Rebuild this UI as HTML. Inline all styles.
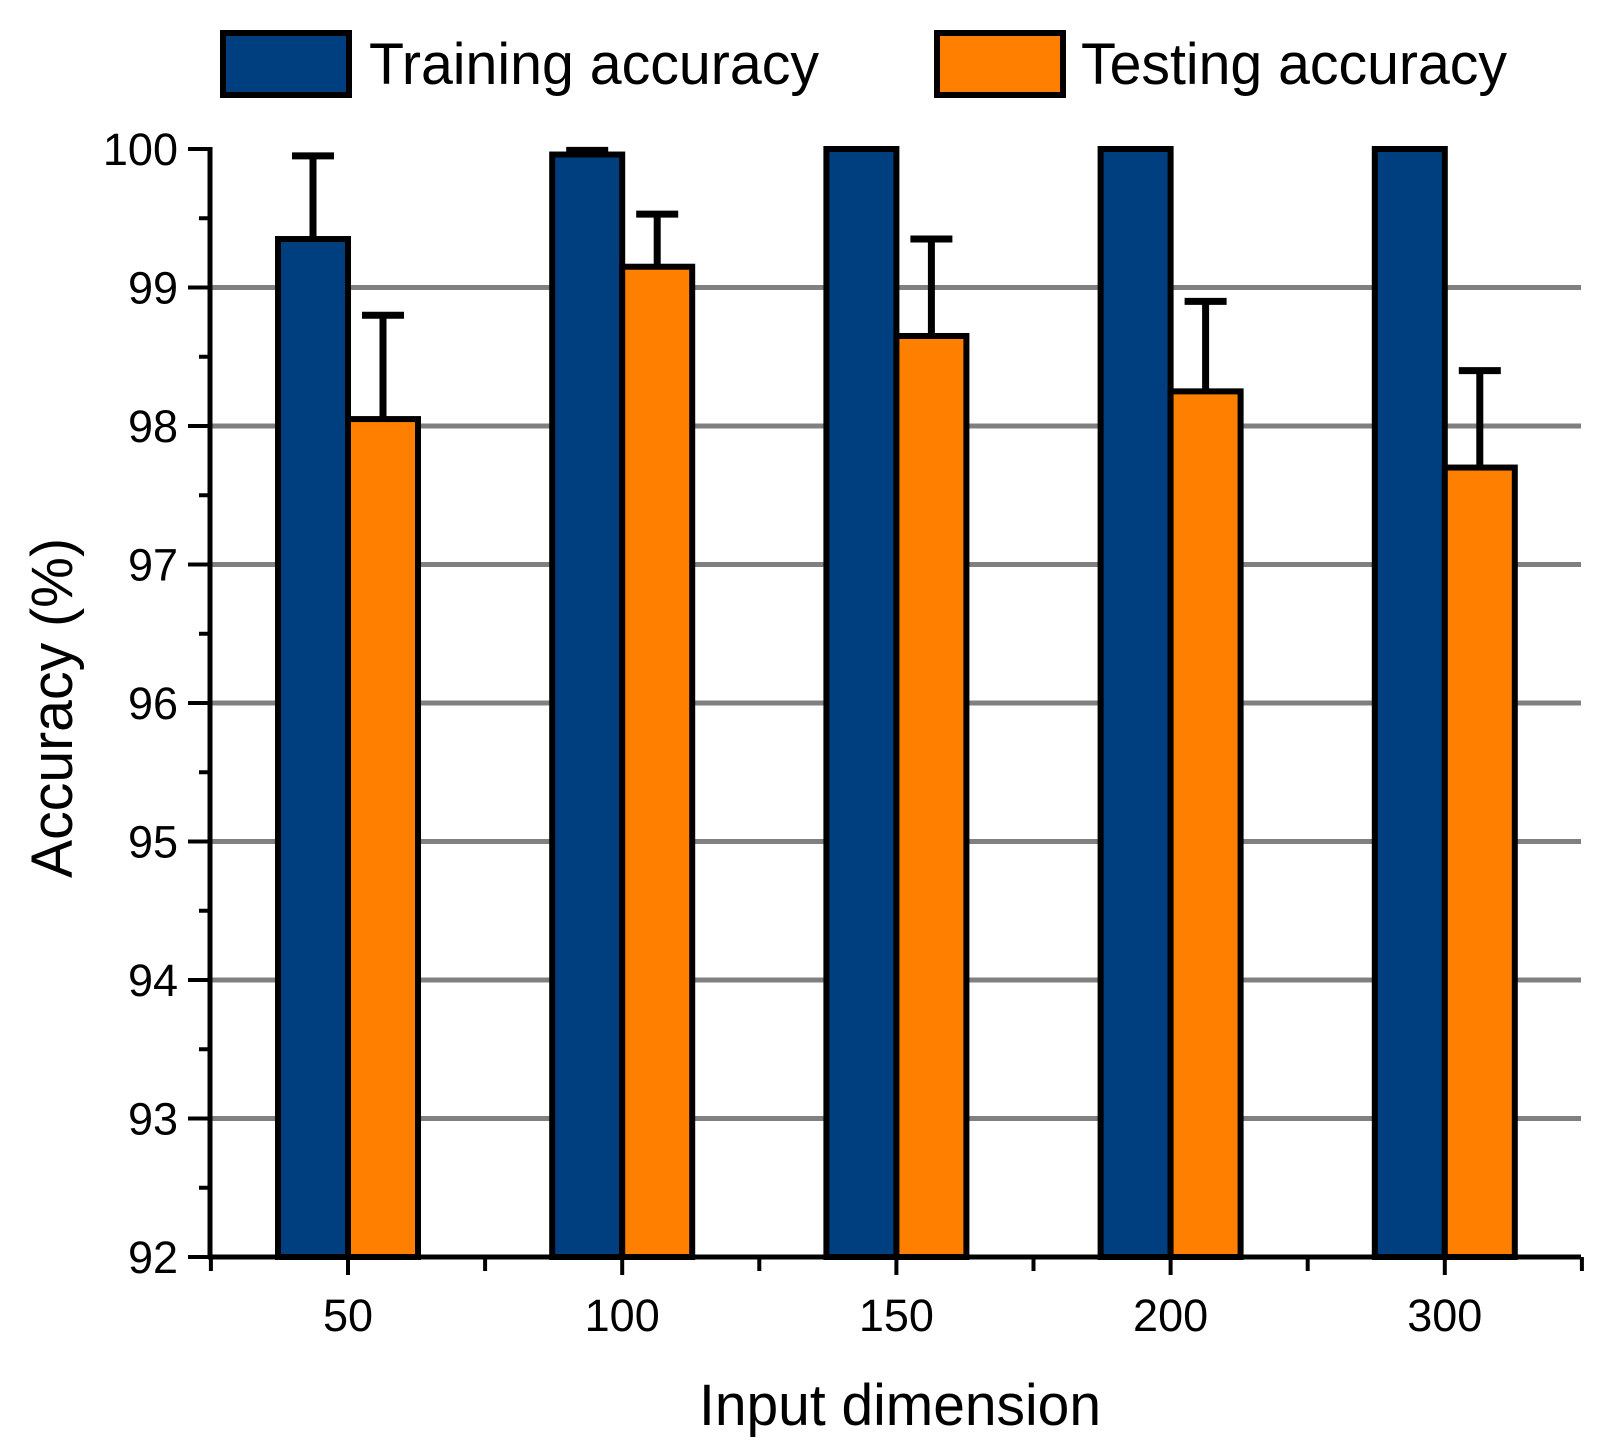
<!DOCTYPE html>
<html><head><meta charset="utf-8"><style>
html,body{margin:0;padding:0;background:#fff;}
svg text{font-family:"Liberation Sans",Arial,sans-serif;fill:#000;}
</style></head><body>
<svg id="chart" width="1612" height="1441" viewBox="0 0 1612 1441" xmlns="http://www.w3.org/2000/svg">
<g id="grid"></g>
<g id="bars"></g>
<g id="axes"></g>
<g>
  <g>
    <rect x="223" y="33" width="126" height="62" fill="#003f7f" stroke="#000" stroke-width="6"/>
    <text x="369" y="84" font-size="58" textLength="450" lengthAdjust="spacingAndGlyphs">Training accuracy</text>
  </g>
  <g>
    <rect x="937" y="33" width="126" height="62" fill="#ff7f00" stroke="#000" stroke-width="6"/>
    <text x="1081" y="84" font-size="58" textLength="426" lengthAdjust="spacingAndGlyphs">Testing accuracy</text>
  </g>
</g>
<text x="900" y="1425" font-size="58" text-anchor="middle" textLength="402" lengthAdjust="spacingAndGlyphs">Input dimension</text>
<text transform="translate(72,708) rotate(-90)" font-size="58" text-anchor="middle" textLength="340" lengthAdjust="spacingAndGlyphs">Accuracy (%)</text>
</svg>
<script>
const categories = ["50","100","150","200","300"];
const trainValues = [99.35, 99.96, 100, 100, 100];
const trainErrors = [0.6, 0.03, 0.0, 0.0, 0.0];
const testValues = [98.05, 99.15, 98.65, 98.25, 97.7];
const testErrors = [0.75, 0.38, 0.7, 0.65, 0.7];
const yTicks = [92,93,94,95,96,97,98,99,100];

const NS="http://www.w3.org/2000/svg";
const X0=210, X1=1581, Y0=1257, YTOP=149, YMIN=92, YMAX=100;
const step=274.2, first=348, bw=70;
function y(v){return Y0-(Math.min(v,YMAX)-YMIN)/(YMAX-YMIN)*(Y0-YTOP);}
function xc(i){return first+i*step;}
function mk(tag,attrs,parent){const e=document.createElementNS(NS,tag);for(const k in attrs)e.setAttribute(k,attrs[k]);parent.appendChild(e);return e;}
const grid=document.getElementById('grid'),bars=document.getElementById('bars'),axes=document.getElementById('axes');
yTicks.forEach(t=>{
  if(t>YMIN&&t<YMAX){
    const l=mk('line',{x1:X0,x2:X1,y1:y(t),y2:y(t),stroke:'#808080','stroke-width':5},grid);
    
    
  }
  const tk=mk('line',{x1:X0-22,x2:X0,y1:y(t),y2:y(t),stroke:'#000','stroke-width':4},axes);
  
  
  const tx=mk('text',{x:X0-32,y:y(t)+16,'font-size':45,'text-anchor':'end'},axes);
  tx.textContent=t;
  
  
  if(t<YMAX){
    const m=mk('line',{x1:X0-11,x2:X0,y1:y(t+0.5),y2:y(t+0.5),stroke:'#000','stroke-width':4},axes);
    
    
  }
});
function drawBar(i,v,e,left,color,nm){
  const top=y(v);
  if(e>0){
    const eb=mk('line',{x1:left+bw/2,x2:left+bw/2,y1:top,y2:y(v+e),stroke:'#000','stroke-width':7},bars);
    
    
    const cap=mk('line',{x1:left+bw/2-21,x2:left+bw/2+21,y1:y(v+e),y2:y(v+e),stroke:'#000','stroke-width':7},bars);
    
    
  }
  const r=mk('rect',{x:left,y:top,width:bw,height:Y0-top,fill:color,stroke:'#000','stroke-width':6},bars);
  
  
}
categories.forEach((c,i)=>{
  drawBar(i,trainValues[i],trainErrors[i],xc(i)-bw,'#003f7f','training');
  drawBar(i,testValues[i],testErrors[i],xc(i),'#ff7f00','testing');
  const tk=mk('line',{x1:xc(i),x2:xc(i),y1:Y0,y2:Y0+18,stroke:'#000','stroke-width':4},axes);
  
  
  const tx=mk('text',{x:xc(i),y:Y0+74,'font-size':45,'text-anchor':'middle'},axes);
  tx.textContent=c;
  
  
});
for(let i=0;i<=categories.length;i++){
  const mx=xc(i)-step/2;
  if(mx<X0-1||mx>X1+1) continue;
  const m=mk('line',{x1:mx,x2:mx,y1:Y0,y2:Y0+14,stroke:'#000','stroke-width':4},axes);
  
  
}
const ya=mk('line',{x1:X0,x2:X0,y1:YTOP-2,y2:Y0+2,stroke:'#000','stroke-width':5},axes);


const xa=mk('line',{x1:X0-2,x2:X1,y1:Y0,y2:Y0,stroke:'#000','stroke-width':5},axes);


</script>
</body></html>
